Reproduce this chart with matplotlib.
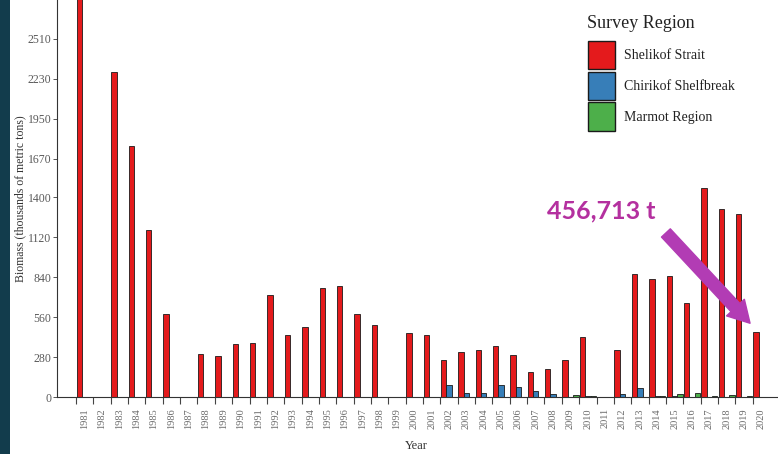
import numpy as np
import matplotlib
matplotlib.use("Agg")
import matplotlib.pyplot as plt
from matplotlib.patches import Patch, Rectangle

years = list(range(1981, 2021))
shelikof = [2850, 0, 2275, 1760, 1171, 582, 0, 301, 290, 374,
            379, 713, 432, 493, 762, 776, 580, 502, 0, 446,
            432, 257, 318, 330, 355, 294, 178, 194, 257, 418,
            0, 330, 862, 825, 848, 661, 1465, 1320, 1281, 457]
chirikof = [0] * 21 + [82, 30, 30, 82, 68, 40, 20, 0, 5,
                       0, 22, 62, 10, 8, 0, 0, 0, 0, 0]
marmot = [0] * 28 + [15, 5,
                     0, 0, 0, 8, 20, 25, 10, 12, 5, 0]
ytick_vals = [0, 280, 560, 840, 1120, 1400, 1670, 1950, 2230, 2510]
series_names = ["Shelikof Strait", "Chirikof Shelfbreak", "Marmot Region"]
series_colors = ["#e41a1c", "#377eb8", "#4daf4a"]
legend_title = "Survey Region"
annot_text = "456,713 t"

plt.rcParams['font.family'] = ['Liberation Serif', 'DejaVu Serif']

fig = plt.figure(figsize=(7.78, 4.54), dpi=100)
fig.patch.set_facecolor("white")
W, H = 778, 454
axw = (W - 57) + 8
ax = fig.add_axes([57 / W, 57 / H, axw / W, (H - 57) / H])

x = np.array(years, dtype=float)
bw = 0.31
offsets = [0.19, 0.5, 0.81]
for vals, off, col in zip([shelikof, chirikof, marmot], offsets, series_colors):
    ax.bar(x + off, vals, width=bw, color=col, edgecolor="#1a1a1a",
           linewidth=0.6, zorder=2)

ax.set_xlim(1981 - 19 / 17.35, 1981 + (W + 8 - 76) / 17.35)
ax.set_ylim(0, 2783)

for s in ["top", "right"]:
    ax.spines[s].set_visible(False)
ax.spines["left"].set_color("#333333")
ax.spines["bottom"].set_color("#333333")
ax.spines["left"].set_linewidth(0.8)
ax.spines["bottom"].set_linewidth(0.8)

ax.set_yticks(ytick_vals)
ax.set_yticklabels([str(v) for v in ytick_vals], fontsize=8.5, color="#5a5a5a")
ax.tick_params(axis="y", length=3, width=0.7, color="#555555", pad=1)

# tick marks at group boundaries, labels at group centres
ax.set_xticks(x, minor=True)
ax.set_xticks(x + 0.5)
ax.set_xticklabels([str(y) for y in years], rotation=90, fontsize=7.5,
                   color="#6a6a6a", va="top", ha="center")
ax.tick_params(axis="x", which="major", length=0, pad=8)
ax.tick_params(axis="x", which="minor", length=5, width=0.8, color="#444444")

ax.set_xlabel("Year", fontsize=9, color="#333333", labelpad=1)
ax.xaxis.set_label_coords((416 - 57) / axw, -43 / 397)
ax.set_ylabel("Biomass (thousands of metric tons)", fontsize=8.5, color="#333333")
ax.yaxis.set_label_coords(-31 / axw, 0.5)

# legend
handles = [Patch(facecolor=c, edgecolor="#1a1a1a", linewidth=1.0) for c in series_colors]
leg = ax.legend(handles, series_names, loc="upper left",
                bbox_to_anchor=(585 / W, 1 - 38 / H), bbox_transform=fig.transFigure,
                frameon=False, fontsize=10,
                handlelength=1.95, handleheight=2.8, labelspacing=0.15,
                handletextpad=0.65, borderaxespad=0, borderpad=0.2)
for t in leg.get_texts():
    t.set_color("#222222")
fig.text(587 / W, 1 - 23 / H, legend_title, fontsize=13, color="#222222",
         ha="left", va="center")

# annotation
i20 = years.index(2020)
tip = (x[i20] - 0.15, shelikof[i20] + 60)
tail = (x[i20] - 5.0, shelikof[i20] + 693)
ax.annotate("", xy=tip, xytext=tail,
            arrowprops=dict(arrowstyle="simple,head_width=1.25,head_length=1.1,tail_width=0.62",
                            color="#b23cb4", mutation_scale=14, shrinkA=0, shrinkB=0),
            zorder=5)
ax.text(x[i20] - 8.7, shelikof[i20] + 845, annot_text, fontsize=18,
        fontweight="bold", family=["Lato", "DejaVu Sans"], color="#b4309f",
        ha="center", va="center", zorder=5)

# dark left strip
fig.patches.append(Rectangle((0, 0), 10 / W, 1, transform=fig.transFigure,
                             facecolor="#123c4c", edgecolor="none", zorder=10))

fig.savefig("out.png", dpi=100)
